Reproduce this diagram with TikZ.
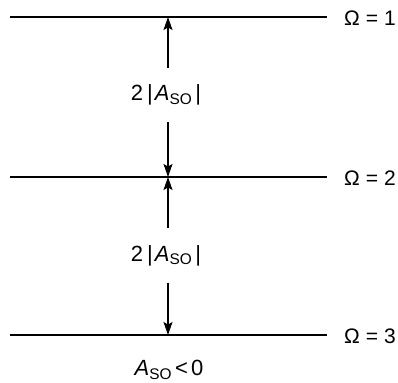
\documentclass[tikz,border=0pt]{standalone}
\usepackage{fontspec}
\setmainfont{Liberation Sans}
\usetikzlibrary{arrows.meta}

\begin{document}
\begin{tikzpicture}[
    x=1pt, y=-1pt,
    % Node styles
    level line/.style={
        line width=1.8pt
    },
    level label/.style={
        anchor=west,
        inner sep=0pt,
        font=\fontsize{21}{25}\selectfont
    },
    gap label/.style={
        inner sep=0pt,
        minimum height=54pt,
        font=\fontsize{22}{26}\selectfont
    },
    gap arrow/.style={
        line width=1.1pt,
        -{Stealth[length=13pt, width=9pt, inset=2.5pt]}
    }
]

\useasboundingbox (0,0) rectangle (398,382);

% Arrow column
\def\arrowx{168}

% Levels
\foreach \i/\y in {1/17, 2/177, 3/335} {
    \coordinate (L-\i-w) at (10, \y);
    \coordinate (L-\i-e) at (327, \y);
    \coordinate (L-\i-a) at (\arrowx, \y);
    \draw[level line] (L-\i-w) -- (L-\i-e);
    \node[level label] (O-\i) at (344, \y+1) {Ω\hspace{6pt}=\hspace{6pt}\i};
}

% Splittings
\node[gap label] (G-1) at (166, 95) {2\hspace{4pt}|\hspace{2pt}\textit{A}\textsubscript{SO}\hspace{3pt}|};
\node[gap label] (G-2) at (166, 255.5) {2\hspace{4pt}|\hspace{2pt}\textit{A}\textsubscript{SO}\hspace{3pt}|};

\foreach \g/\u/\d in {1/1/2, 2/2/3} {
    \draw[gap arrow] (G-\g.north -| L-\u-a) -- (L-\u-a);
    \draw[gap arrow] (G-\g.south -| L-\d-a) -- (L-\d-a);
}

% Sign note
\node[gap label, minimum height=0pt] (S) at (169, 370) {\textit{A}\textsubscript{SO}\hspace{3pt}<\hspace{3pt}0};

\end{tikzpicture}
\end{document}
